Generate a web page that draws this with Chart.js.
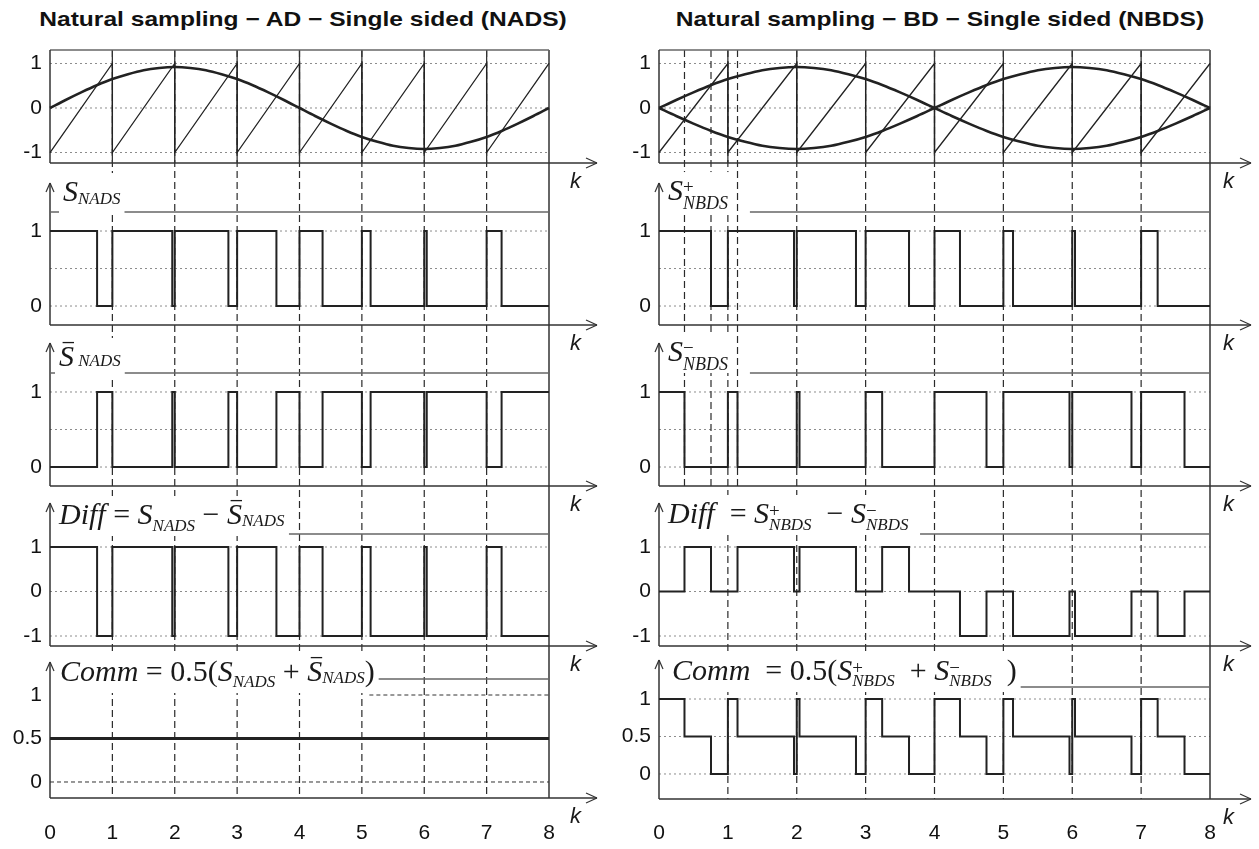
<!DOCTYPE html>
<html>
<head>
<meta charset="utf-8">
<script src="https://cdn.jsdelivr.net/npm/chart.js@4.4.1/dist/chart.umd.min.js"></script>
<style>
  body { margin: 0; background: #fff; width: 1259px; height: 849px; overflow: hidden; position: relative; }
  .ttl { position: absolute; top: 7px; font: bold 21px "Liberation Sans", Arial, sans-serif; color: #111; white-space: nowrap;
         text-align: center; transform: scaleX(1.17); transform-origin: center; }
  canvas { position: absolute; top: 0; }
</style>
</head>
<body>
<div class="ttl" style="left:0;width:606px">Natural sampling − AD − Single sided (NADS)</div>
<div class="ttl" style="left:620px;width:640px">Natural sampling − BD − Single sided (NBDS)</div>
<canvas id="chartL" width="612" height="849" style="left:0"></canvas>
<canvas id="chartR" width="647" height="849" style="left:612px"></canvas>
<script>
const SANS = '"Liberation Sans", Arial, sans-serif';
const SERIF = '"Liberation Serif", "Times New Roman", serif';

// x axis
const kTicks = [0, 1, 2, 3, 4, 5, 6, 7, 8];

// reference (modulating) signal and carrier
const sineK = [0, 0.25, 0.5, 0.75, 1, 1.25, 1.5, 1.75, 2, 2.25, 2.5, 2.75, 3, 3.25, 3.5, 3.75, 4,
               4.25, 4.5, 4.75, 5, 5.25, 5.5, 5.75, 6, 6.25, 6.5, 6.75, 7, 7.25, 7.5, 7.75, 8];
const sineV = [0, 0.18, 0.35, 0.51, 0.65, 0.76, 0.85, 0.90, 0.92, 0.90, 0.85, 0.76, 0.65, 0.51, 0.35, 0.18, 0,
               -0.18, -0.35, -0.51, -0.65, -0.76, -0.85, -0.90, -0.92, -0.90, -0.85, -0.76, -0.65, -0.51, -0.35, -0.18, 0];
const sineNegV = [0, -0.18, -0.35, -0.51, -0.65, -0.76, -0.85, -0.90, -0.92, -0.90, -0.85, -0.76, -0.65, -0.51, -0.35, -0.18, 0,
                  0.18, 0.35, 0.51, 0.65, 0.76, 0.85, 0.90, 0.92, 0.90, 0.85, 0.76, 0.65, 0.51, 0.35, 0.18, 0];
const sawK = [0, 1, 1, 2, 2, 3, 3, 4, 4, 5, 5, 6, 6, 7, 7, 8];
const sawV = [-1, 1, -1, 1, -1, 1, -1, 1, -1, 1, -1, 1, -1, 1, -1, 1];

// AD (left) switching signals
const sNadsK = [0, 0.755, 1, 1.96, 2, 2.86, 3, 3.63, 4, 4.37, 5, 5.14, 6, 6.04, 7, 7.24, 8];
const sNadsV = [1, 0, 1, 0, 1, 0, 1, 0, 1, 0, 1, 0, 1, 0, 1, 0, 0];
const sNadsBarV = [0, 1, 0, 1, 0, 1, 0, 1, 0, 1, 0, 1, 0, 1, 0, 1, 1];
const diffNadsV = [1, -1, 1, -1, 1, -1, 1, -1, 1, -1, 1, -1, 1, -1, 1, -1, -1];
const commNadsK = [0, 8];
const commNadsV = [0.5, 0.5];

// BD (right) switching signals
const sPlusK = [0, 0.755, 1, 1.96, 2, 2.86, 3, 3.63, 4, 4.37, 5, 5.14, 6, 6.04, 7, 7.24, 8];
const sPlusV = [1, 0, 1, 0, 1, 0, 1, 0, 1, 0, 1, 0, 1, 0, 1, 0, 0];
const sMinusK = [0, 0.37, 1, 1.14, 2, 2.04, 3, 3.24, 4, 4.755, 5, 5.96, 6, 6.86, 7, 7.63, 8];
const sMinusV = [1, 0, 1, 0, 1, 0, 1, 0, 1, 0, 1, 0, 1, 0, 1, 0, 0];
const nbdsK = [0, 0.37, 0.755, 1, 1.14, 1.96, 2, 2.04, 2.86, 3, 3.24, 3.63, 4, 4.37, 4.755,
               5, 5.14, 5.96, 6, 6.04, 6.86, 7, 7.24, 7.63, 8];
const diffNbdsV = [0, 1, 0, 0, 1, 0, 0, 1, 0, 0, 1, 0, 0, -1, 0, 0, -1, 0, 0, -1, 0, 0, -1, 0, 0];
const commNbdsV = [1, 0.5, 0, 1, 0.5, 0, 1, 0.5, 0, 1, 0.5, 0, 1, 0.5, 0, 1, 0.5, 0, 1, 0.5, 0, 1, 0.5, 0, 0];
const crossR = [0.37, 0.755, 1.14];

// y tick labels per panel
const ticksPm = [-1, 0, 1];
const ticks01 = [0, 1];
const ticksComm = [0, 0.5, 1];

function yAxis(range, ticks, order, band, width) {
  return {
    type: 'linear', position: 'left', stack: 'col', stackWeight: band, weight: order,
    min: range[0], max: range[1],
    grid: { display: false, drawTicks: false }, border: { display: false },
    afterBuildTicks: s => { s.ticks = ticks.map(v => ({ value: v })); },
    afterFit: s => { s.width = width; },
    ticks: { color: '#111', font: { size: 21, family: SANS }, padding: 8, autoSkip: false, callback: v => String(v) }
  };
}

function xAxis() {
  return {
    type: 'linear', position: 'bottom', min: 0, max: 8,
    grid: { display: false, drawTicks: false }, border: { display: false },
    afterBuildTicks: s => { s.ticks = kTicks.map(v => ({ value: v })); },
    afterFit: s => { s.height = 49; },
    ticks: { color: '#111', font: { size: 21, family: SANS }, padding: 21, autoSkip: false, maxRotation: 0 }
  };
}

function sig(yId, ks, vs, w, extra) {
  return Object.assign({
    yAxisID: yId, data: ks.map((k, i) => ({ x: k, y: vs[i] })),
    borderColor: '#222', borderWidth: w, pointRadius: 0, stepped: 'before', clip: false, tension: 0
  }, extra || {});
}

function rich(ctx, x, y, parts) {
  let cx = x, last = x;
  const items = [];
  parts.forEach(([t, size, dy, fl = '']) => {
    const font = (fl.includes('u') ? '' : 'italic ') + size + 'px ' + SERIF;
    ctx.font = font;
    const w = ctx.measureText(t).width;
    const sx = fl.includes('s') ? last : cx;
    items.push({ t, font, sx, dy, w, size, bar: fl.includes('b') });
    last = sx;
    cx = Math.max(cx, sx + w);
  });
  ctx.save();
  ctx.fillStyle = '#fff';
  ctx.fillRect(x - 4, y - 28, cx - x + 8, 40);
  ctx.fillStyle = '#1a1a1a';
  ctx.strokeStyle = '#1a1a1a';
  ctx.textBaseline = 'alphabetic';
  items.forEach(it => {
    ctx.font = it.font;
    ctx.fillText(it.t, it.sx, y + it.dy);
    if (it.bar) {
      ctx.lineWidth = 1.3;
      ctx.beginPath();
      ctx.moveTo(it.sx + it.size * 0.12, y + it.dy - it.size * 0.78);
      ctx.lineTo(it.sx + it.w, y + it.dy - it.size * 0.78);
      ctx.stroke();
    }
  });
  ctx.restore();
}

function makeDecor(cfg) {
  return {
    id: 'decor',
    beforeDatasetsDraw(chart) {
      const ctx = chart.ctx, a = chart.chartArea, xs = chart.scales.x;
      const X = v => xs.getPixelForValue(v);
      const seg = (x1, y1, x2, y2, col, w, dash) => {
        ctx.save();
        ctx.beginPath();
        ctx.strokeStyle = col; ctx.lineWidth = w; ctx.setLineDash(dash || []);
        ctx.moveTo(x1, y1); ctx.lineTo(x2, y2); ctx.stroke();
        ctx.restore();
      };
      const P = cfg.panels.map(p => Object.assign({ s: chart.scales[p.id] }, p));
      const Y = (p, v) => p.s.getPixelForValue(v);
      const top = Y(P[0], P[0].tip), bot = Y(P[4], P[4].axis), ax1 = Y(P[0], P[0].axis);

      P.forEach(p => p.dots.forEach(([v, from, dash, col]) =>
        seg(X(from), Y(p, v), a.right, Y(p, v), col || '#8c8c8c', 1, dash || [2, 3])));
      kTicks.slice(1, 8).forEach(k => seg(X(k), top, X(k), bot, '#2a2a2a', 1.2, [7, 4]));
      cfg.extra.forEach(k => seg(X(k), top, X(k), Y(P[2], P[2].axis), '#2a2a2a', 1.2, [7, 4]));
      kTicks.slice(1, 8).forEach(k => seg(X(k), top, X(k), ax1, '#333', 1.3));
      seg(a.right, top, a.right, bot, '#333', 1.5);
      seg(a.left, top, a.right, top, '#666', 1.5);

      P.forEach(p => {
        const ya = Y(p, p.axis), xe = a.right + cfg.arrow, yt = Y(p, p.tip);
        seg(a.left, ya, xe, ya, '#333', 1.5);
        seg(xe - 11, ya - 5, xe, ya, '#333', 1.2);
        seg(xe - 11, ya + 5, xe, ya, '#333', 1.2);
        seg(a.left, ya, a.left, yt, '#333', 1.5);
        if (p.label) {
          seg(a.left - 4, yt + 9, a.left, yt, '#333', 1.2);
          seg(a.left + 4, yt + 9, a.left, yt, '#333', 1.2);
        }
        if (p.frame != null) seg(X(p.frameFrom), Y(p, p.frame), a.right, Y(p, p.frame), '#666', 1.5);
        ctx.save();
        ctx.font = 'italic 22px ' + SANS;
        ctx.fillStyle = '#1a1a1a';
        ctx.fillText('k', a.right + cfg.kdx, ya + 25);
        ctx.restore();
        if (p.label) rich(ctx, a.left + p.lx, Y(p, p.ly), p.label);
      });
    }
  };
}

const dotPm = [[1, 0], [0, 0], [-1, 0]];
const dot01 = [[1, 0], [0.5, 0], [0, 0]];

const panelsL = [
  { id: 'y1', dots: dotPm, axis: -1.236, tip: 1.303, frame: null },
  { id: 'y2', dots: dot01, axis: -0.253, tip: 1.64, frame: 1.253, frameFrom: 0, lx: 13, ly: 1.40,
    label: [['S', 30, 0], ['NADS', 17, 3]] },
  { id: 'y3', dots: dot01, axis: -0.253, tip: 1.653, frame: 1.253, frameFrom: 0, lx: 9, ly: 1.347,
    label: [['S', 30, 0, 'b'], [' NADS', 17, 0]] },
  { id: 'y4', dots: dotPm, axis: -1.225, tip: 1.989, frame: 1.292, frameFrom: 3.83, lx: 9, ly: 1.517,
    label: [['Diff', 30, 0], [' = ', 30, 0, 'u'], ['S', 30, 0], ['NADS', 17, 7], [' − ', 30, 0, 'u'],
            ['S', 30, 0, 'b'], ['NADS', 17, 2]] },
  { id: 'y5', dots: [[0, 0, [4, 3], '#333'], [1, 5.12, [4, 3], '#333']], axis: -0.184, tip: 1.379,
    frame: 1.184, frameFrom: 5.12, lx: 10, ly: 1.161,
    label: [['Comm', 30, 0], [' = 0.5(', 30, 0, 'u'], ['S', 30, 0], ['NADS', 17, 6], [' + ', 30, 0, 'u'],
            ['S', 30, 0, 'b'], ['NADS', 17, 2], [')', 30, 0, 'u']] }
];

const panelsR = [
  { id: 'y1', dots: dotPm, axis: -1.236, tip: 1.303, frame: null },
  { id: 'y2', dots: dot01, axis: -0.253, tip: 1.64, frame: 1.253, frameFrom: 1.32, lx: 9, ly: 1.413,
    label: [['S', 30, 0], ['+', 19, -7, 'u'], ['NBDS', 18, 9, 's']] },
  { id: 'y3', dots: dot01, axis: -0.253, tip: 1.653, frame: 1.253, frameFrom: 1.32, lx: 9, ly: 1.413,
    label: [['S', 30, 0], ['−', 19, -7, 'u'], ['NBDS', 18, 9, 's']] },
  { id: 'y4', dots: dotPm, axis: -1.225, tip: 1.989, frame: 1.292, frameFrom: 3.79, lx: 9, ly: 1.54,
    label: [['Diff', 30, 0], ['  = ', 30, 0, 'u'], ['S', 30, 0], ['+', 19, -6, 'u'], ['NBDS', 17, 7, 's'],
            ['  − ', 30, 0, 'u'], ['S', 30, 0], ['−', 19, -6, 'u'], ['NBDS', 17, 7, 's']] },
  { id: 'y5', dots: dot01, axis: -0.333, tip: 1.52, frame: 1.16, frameFrom: 5.08, lx: 13, ly: 1.253,
    label: [['Comm', 30, 0], ['  = 0.5(', 30, 0, 'u'], ['S', 30, 0], ['+', 19, -6, 'u'], ['NBDS', 17, 6, 's'],
            ['  + ', 30, 0, 'u'], ['S', 30, 0], ['−', 19, -6, 'u'], ['NBDS', 17, 6, 's'], ['  )', 30, 0, 'u']] }
];

function build(id, datasets, yw, padRight, panels, p5range, extra, arrow, kdx) {
  new Chart(document.getElementById(id), {
    type: 'line',
    data: { datasets },
    options: {
      responsive: false, animation: false, events: [],
      layout: { padding: { top: 46, right: padRight, left: 0, bottom: 0 } },
      plugins: { legend: { display: false }, tooltip: { enabled: false } },
      scales: {
        x: xAxis(),
        y1: yAxis([-1.438, 1.393], ticksPm, 5, 126, yw),
        y2: yAxis([-0.373, 1.787], ticks01, 4, 162, yw),
        y3: yAxis([-0.373, 1.773], ticks01, 3, 161, yw),
        y4: yAxis([-1.427, 2.169], ticksPm, 2, 160, yw),
        y5: yAxis(p5range, ticksComm, 1, 145, yw)
      }
    },
    plugins: [makeDecor({ panels, extra, arrow, kdx })]
  });
}

build('chartL', [
  sig('y1', sineK, sineV, 2.6, { stepped: false, cubicInterpolationMode: 'monotone' }),
  sig('y1', sawK, sawV, 1.3, { stepped: false }),
  sig('y2', sNadsK, sNadsV, 2),
  sig('y3', sNadsK, sNadsBarV, 2),
  sig('y4', sNadsK, diffNadsV, 2),
  sig('y5', commNadsK, commNadsV, 3)
], 50, 63, panelsL, [-0.207, 1.46], [], 48, 21);

build('chartR', [
  sig('y1', sineK, sineV, 2.6, { stepped: false, cubicInterpolationMode: 'monotone' }),
  sig('y1', sineK, sineNegV, 2.6, { stepped: false, cubicInterpolationMode: 'monotone' }),
  sig('y1', sawK, sawV, 1.3, { stepped: false }),
  sig('y2', sPlusK, sPlusV, 2),
  sig('y3', sMinusK, sMinusV, 2),
  sig('y4', nbdsK, diffNbdsV, 2),
  sig('y5', nbdsK, commNbdsV, 2)
], 47, 49, panelsR, [-0.347, 1.587], crossR, 41, 13);
</script>
</body>
</html>
